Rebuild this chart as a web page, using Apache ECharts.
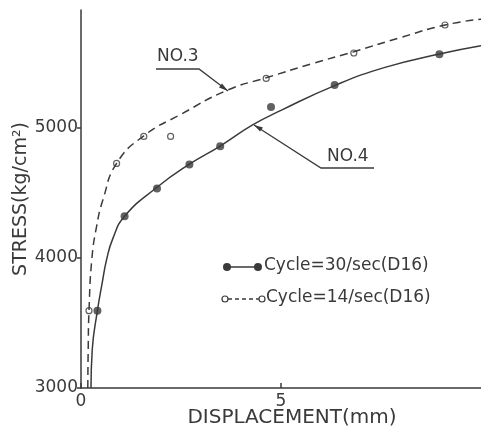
<!DOCTYPE html>
<html>
<head>
<meta charset="utf-8">
<script src="https://cdn.jsdelivr.net/npm/echarts@6/dist/echarts.min.js"></script>
<style>
  html, body { margin: 0; padding: 0; background: #fff; }
  #box01 { width: 481px; height: 428px; }
</style>
</head>
<body>
<div id="box01"></div>
<script>
// measured points, [displacement mm, stress kg/cm2]
var no4Points = [[0.41, 3593], [1.09, 4318], [1.9, 4530], [2.71, 4715], [3.48, 4855],
                 [4.75, 5155], [6.34, 5325], [8.96, 5560]];
var no3Points = [[0.2, 3593], [0.89, 4723], [1.57, 4930], [2.24, 4930], [4.63, 5375],
                 [6.82, 5570], [9.1, 5785]];
// fitted curves as drawn
var no4Curve = [[0.25, 3000], [0.28, 3290], [0.41, 3593], [0.53, 3806], [0.64, 3985],
                [0.8, 4150], [1.09, 4318], [1.9, 4540], [2.7, 4715], [3.5, 4860],
                [4.3, 5020], [5.0, 5130], [6.34, 5320], [7.6, 5460], [8.96, 5562], [10, 5625]];
var no3Curve = [[0.17, 3000], [0.18, 3300], [0.2, 3593], [0.27, 3985], [0.39, 4240],
                [0.55, 4446], [0.89, 4723], [1.57, 4935], [2.5, 5100],
                [3.66, 5285], [4.63, 5380], [5.8, 5490], [6.82, 5580], [8.0, 5690],
                [9.1, 5785], [10, 5830]];
var xTicks = [0, 5];
var yTicks = [3000, 4000, 5000];

var ink = '#3a3a3a';
var font = 'DejaVu Sans';

var myChart = echarts.init(document.getElementById('box01'));

var option = {
    backgroundColor: '#fff',
    animation: false,
    grid: { left: 81, right: 0, top: 10, bottom: 40, containLabel: false, outerBoundsMode: 'none' },
    xAxis: {
        type: 'value',
        min: 0, max: 10,
        name: 'DISPLACEMENT(mm)',
        nameLocation: 'middle',
        nameGap: 20,
        nameMoveOverlap: false,
        nameTextStyle: { color: ink, fontSize: 20, fontFamily: font, padding: [0, 0, 0, 22] },
        splitLine: { show: false },
        axisLine: { lineStyle: { color: ink, width: 1.5 } },
        axisTick: { inside: true, length: 5, customValues: xTicks, lineStyle: { color: ink, width: 1.5 } },
        axisLabel: { customValues: xTicks, color: ink, fontSize: 17, fontFamily: font, margin: 5,
                     formatter: function (v) { return String(v); } }
    },
    yAxis: {
        type: 'value',
        min: 3000, max: 5900,
        name: 'STRESS(kg/cm²)',
        nameLocation: 'middle',
        nameGap: 50,
        nameRotate: 90,
        nameMoveOverlap: false,
        nameTextStyle: { color: ink, fontSize: 19, fontFamily: font, padding: [0, 0, 0, 0] },
        splitLine: { show: false },
        axisLine: { show: true, lineStyle: { color: ink, width: 1.5 } },
        axisTick: { show: true, length: 4, customValues: yTicks, lineStyle: { color: ink, width: 1.5 } },
        axisLabel: { customValues: yTicks, color: ink, fontSize: 17, fontFamily: font, margin: 3,
                     formatter: function (v) { return String(v); } }
    },
    series: [
        {
            name: 'NO.4 curve', type: 'line', data: no4Curve, showSymbol: false,
            smooth: 0.5, lineStyle: { color: ink, width: 1.5 }
        },
        {
            name: 'NO.3 curve', type: 'line', data: no3Curve, showSymbol: false,
            smooth: 0.5, lineStyle: { color: ink, width: 1.5, type: [8, 5] }
        },
        {
            name: 'Cycle=30/sec(D16)', type: 'scatter', data: no4Points, symbolSize: 8,
            itemStyle: { color: ink }
        },
        {
            name: 'Cycle=14/sec(D16)', type: 'scatter', data: no3Points, symbolSize: 6,
            itemStyle: { color: '#fff', borderColor: ink, borderWidth: 1.2 }
        }
    ],
    graphic: [
        // NO.3 label and leader
        { type: 'text', left: 157, top: 48, style: { text: 'NO.3', fill: ink, font: '17px ' + font } },
        { type: 'polyline', shape: { points: [[156, 69], [199, 69], [228, 91]] },
          style: { stroke: ink, lineWidth: 1.3, fill: null } },
        { type: 'polygon', shape: { points: [[228, 91], [219, 87.5], [222, 83.5]] }, style: { fill: ink } },
        // NO.4 label and leader
        { type: 'text', left: 327, top: 148, style: { text: 'NO.4', fill: ink, font: '17px ' + font } },
        { type: 'polyline', shape: { points: [[374, 168], [321, 168], [254, 125]] },
          style: { stroke: ink, lineWidth: 1.3, fill: null } },
        { type: 'polygon', shape: { points: [[254, 125], [263, 127.5], [260, 131.5]] }, style: { fill: ink } },
        // legend row 1
        { type: 'line', shape: { x1: 227, y1: 267, x2: 258, y2: 267 }, style: { stroke: ink, lineWidth: 1.5 } },
        { type: 'circle', shape: { cx: 227, cy: 267, r: 4 }, style: { fill: ink } },
        { type: 'circle', shape: { cx: 258, cy: 267, r: 4 }, style: { fill: ink } },
        { type: 'text', left: 264, top: 257, style: { text: 'Cycle=30/sec(D16)', fill: ink, font: '17px ' + font } },
        // legend row 2
        { type: 'line', shape: { x1: 228, y1: 299, x2: 259, y2: 299 },
          style: { stroke: ink, lineWidth: 1.3, lineDash: [4, 3] } },
        { type: 'circle', shape: { cx: 225, cy: 299, r: 3 }, style: { fill: '#fff', stroke: ink, lineWidth: 1.2 } },
        { type: 'circle', shape: { cx: 262, cy: 299, r: 3 }, style: { fill: '#fff', stroke: ink, lineWidth: 1.2 } },
        { type: 'text', left: 266, top: 289, style: { text: 'Cycle=14/sec(D16)', fill: ink, font: '17px ' + font } }
    ]
};

myChart.setOption(option);
</script>
</body>
</html>
